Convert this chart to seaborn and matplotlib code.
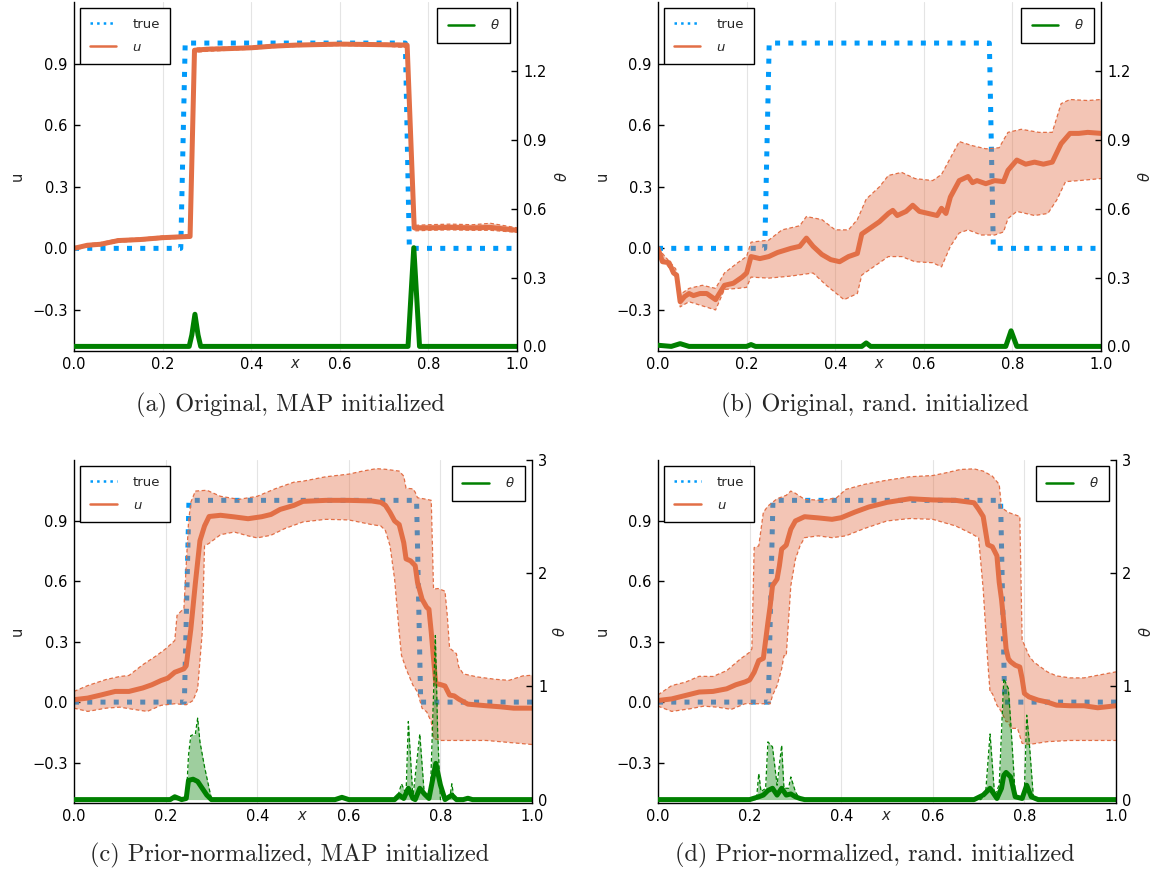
import numpy as np
import matplotlib
matplotlib.use('Agg')
import matplotlib.pyplot as plt
import seaborn as sns
from matplotlib.lines import Line2D

# true step
true_x = [0, 0.241, 0.251, 0.748, 0.757, 1.0]
true_u = [0, 0, 1, 1, 0, 0]

# (a) original, MAP initialized
a_x = [0, 0.03, 0.06, 0.1, 0.15, 0.2, 0.23, 0.262, 0.272, 0.3, 0.35, 0.4, 0.45, 0.5, 0.6, 0.7, 0.752, 0.768, 0.8, 0.85, 0.9, 0.94, 1.0]
a_u = [0.0, 0.015, 0.02, 0.038, 0.043, 0.052, 0.055, 0.058, 0.965, 0.97, 0.973, 0.977, 0.985, 0.99, 0.995, 0.992, 0.99, 0.10, 0.10, 0.102, 0.10, 0.102, 0.088]
a_lo = [0.0, 0.008, 0.013, 0.03, 0.036, 0.045, 0.048, 0.05, 0.955, 0.96, 0.965, 0.97, 0.978, 0.983, 0.988, 0.985, 0.978, 0.085, 0.088, 0.09, 0.088, 0.088, 0.078]
a_hi = [0.0, 0.022, 0.028, 0.046, 0.05, 0.06, 0.062, 0.066, 0.975, 0.978, 0.98, 0.984, 0.992, 0.996, 1.0, 0.998, 0.998, 0.112, 0.115, 0.118, 0.115, 0.122, 0.1]
a_tx = [0, 0.26, 0.266, 0.273, 0.28, 0.286, 0.754, 0.76, 0.767, 0.774, 0.78, 1.0]
a_t = [0, 0, 0.05, 0.14, 0.05, 0, 0, 0.2, 0.43, 0.2, 0, 0]

# (b) original, rand. initialized
b_x = [0, 0.01, 0.025, 0.035, 0.042, 0.05, 0.06, 0.07, 0.08, 0.095, 0.11, 0.13, 0.15, 0.17, 0.19, 0.2, 0.21, 0.23, 0.25, 0.27,
       0.30, 0.32, 0.335, 0.35, 0.37, 0.39, 0.41, 0.43, 0.45, 0.46, 0.48, 0.5, 0.52, 0.53, 0.54, 0.56, 0.575, 0.59, 0.61, 0.63,
       0.64, 0.65, 0.66, 0.68, 0.70, 0.71, 0.72, 0.74, 0.76, 0.78, 0.79, 0.81, 0.83, 0.85, 0.87, 0.89, 0.91, 0.93, 0.95, 0.97, 1.0]
b_u = [0.0, -0.065, -0.07, -0.12, -0.13, -0.26, -0.235, -0.22, -0.23, -0.22, -0.22, -0.25, -0.18, -0.17, -0.14, -0.12, -0.04, -0.05, -0.04, -0.02,
       0.0, 0.01, 0.05, 0.01, -0.03, -0.055, -0.065, -0.04, -0.025, 0.07, 0.10, 0.13, 0.17, 0.185, 0.16, 0.18, 0.21, 0.18, 0.17, 0.16,
       0.195, 0.17, 0.25, 0.33, 0.35, 0.32, 0.33, 0.315, 0.33, 0.325, 0.38, 0.43, 0.41, 0.42, 0.41, 0.42, 0.51, 0.56, 0.56, 0.565, 0.56]
b_lx = [0, 0.02, 0.04, 0.05, 0.07, 0.10, 0.13, 0.15, 0.18, 0.2, 0.21, 0.25, 0.3, 0.35, 0.38, 0.42, 0.45, 0.46, 0.5, 0.52,
        0.55, 0.58, 0.62, 0.64, 0.66, 0.68, 0.70, 0.73, 0.76, 0.78, 0.79, 0.81, 0.85, 0.88, 0.90, 0.92, 0.95, 1.0]
b_lo = [0.0, -0.08, -0.14, -0.285, -0.26, -0.28, -0.30, -0.2, -0.195, -0.19, -0.14, -0.145, -0.135, -0.12, -0.18, -0.25, -0.22, -0.13, -0.07, -0.04,
        -0.04, -0.065, -0.07, -0.09, 0.01, 0.075, 0.09, 0.065, 0.065, 0.08, 0.145, 0.18, 0.16, 0.17, 0.235, 0.325, 0.33, 0.34]
b_hx = [0, 0.02, 0.04, 0.05, 0.07, 0.10, 0.13, 0.15, 0.18, 0.2, 0.21, 0.25, 0.28, 0.32, 0.335, 0.37, 0.4, 0.43, 0.45, 0.47,
        0.5, 0.52, 0.55, 0.58, 0.62, 0.64, 0.66, 0.68, 0.71, 0.74, 0.77, 0.79, 0.82, 0.86, 0.89, 0.91, 0.93, 0.97, 1.0]
b_hi = [0.0, -0.05, -0.1, -0.225, -0.195, -0.18, -0.195, -0.12, -0.07, -0.04, 0.03, 0.04, 0.09, 0.11, 0.155, 0.14, 0.09, 0.09, 0.14, 0.24,
        0.30, 0.355, 0.37, 0.34, 0.33, 0.36, 0.44, 0.52, 0.50, 0.485, 0.49, 0.565, 0.58, 0.565, 0.565, 0.705, 0.725, 0.72, 0.725]
b_tx = [0, 0.03, 0.05, 0.07, 0.2, 0.21, 0.22, 0.46, 0.47, 0.48, 0.785, 0.797, 0.81, 1.0]
b_t = [0.005, 0.0, 0.012, 0.0, 0.0, 0.008, 0.0, 0.0, 0.015, 0.0, 0.0, 0.068, 0.0, 0.0]

# (c) prior-normalized, MAP initialized
c_x = [0, 0.03, 0.06, 0.09, 0.12, 0.15, 0.17, 0.19, 0.205, 0.22, 0.24, 0.245, 0.255, 0.265, 0.275, 0.285, 0.295, 0.32, 0.35, 0.38,
       0.41, 0.43, 0.45, 0.48, 0.5, 0.55, 0.6, 0.65, 0.67, 0.68, 0.69, 0.70, 0.71, 0.72, 0.725, 0.735, 0.745, 0.75, 0.76, 0.77,
       0.775, 0.78, 0.785, 0.79, 0.80, 0.81, 0.82, 0.83, 0.84, 0.86, 0.9, 0.93, 0.96, 1.0]
c_u = [0.012, 0.02, 0.036, 0.053, 0.053, 0.07, 0.086, 0.107, 0.119, 0.148, 0.165, 0.18, 0.36, 0.59, 0.80, 0.873, 0.92, 0.926, 0.918, 0.909,
       0.919, 0.93, 0.955, 0.975, 0.995, 1.0, 1.0, 0.997, 0.99, 0.975, 0.94, 0.898, 0.88, 0.79, 0.71, 0.70, 0.676, 0.594, 0.51, 0.47,
       0.46, 0.347, 0.215, 0.092, 0.087, 0.08, 0.035, 0.031, 0.015, -0.01, -0.018, -0.023, -0.03, -0.03]
c_hx = [0, 0.03, 0.07, 0.1, 0.12, 0.15, 0.18, 0.2, 0.22, 0.225, 0.24, 0.25, 0.255, 0.265, 0.29, 0.32, 0.36, 0.40, 0.44, 0.48,
        0.5, 0.55, 0.6, 0.63, 0.66, 0.68, 0.71, 0.72, 0.725, 0.74, 0.745, 0.75, 0.77, 0.78, 0.785, 0.795, 0.81, 0.815, 0.82, 0.835,
        0.84, 0.85, 0.88, 0.92, 0.95, 0.98, 1.0]
c_hi = [0.053, 0.082, 0.112, 0.127, 0.132, 0.185, 0.23, 0.264, 0.305, 0.43, 0.465, 0.89, 0.99, 1.046, 1.05, 1.02, 1.005, 1.02, 1.058, 1.09,
        1.095, 1.117, 1.13, 1.145, 1.157, 1.154, 1.145, 1.12, 1.06, 1.057, 1.04, 1.013, 1.005, 1.0, 0.56, 0.563, 0.55, 0.43, 0.268, 0.24,
        0.174, 0.14, 0.125, 0.113, 0.108, 0.13, 0.133]
c_lx = [0, 0.03, 0.07, 0.1, 0.13, 0.16, 0.19, 0.22, 0.245, 0.26, 0.27, 0.28, 0.285, 0.295, 0.32, 0.35, 0.38, 0.40, 0.43, 0.46,
        0.5, 0.55, 0.6, 0.65, 0.67, 0.68, 0.69, 0.70, 0.71, 0.715, 0.725, 0.74, 0.75, 0.76, 0.77, 0.78, 0.785, 0.8, 0.85, 0.9,
        0.95, 1.0]
c_lo = [-0.03, -0.046, -0.03, -0.025, -0.036, -0.046, -0.016, -0.008, -0.013, 0.008, 0.066, 0.346, 0.774, 0.787, 0.83, 0.843, 0.824, 0.814, 0.827, 0.86,
        0.893, 0.906, 0.903, 0.88, 0.873, 0.85, 0.775, 0.61, 0.347, 0.232, 0.166, 0.084, 0.05, -0.03, -0.048, -0.097, -0.18, -0.19, -0.19, -0.19,
        -0.2, -0.21]
c_tx = [0, 0.21, 0.22, 0.235, 0.245, 0.25, 0.26, 0.27, 0.28, 0.29, 0.30, 0.57, 0.585, 0.60, 0.70, 0.71, 0.72, 0.73, 0.74, 0.745,
        0.755, 0.765, 0.775, 0.79, 0.80, 0.81, 0.825, 0.835, 0.85, 0.86, 0.87, 1.0]
c_t = [0, 0, 0.025, 0, 0.01, 0.17, 0.18, 0.16, 0.10, 0.04, 0, 0, 0.02, 0, 0, 0.04, 0.01, 0.1, 0.01, 0,
       0.1, 0.05, 0.01, 0.32, 0.13, 0, 0.04, 0, 0, 0.012, 0, 0]
c_thx = [0, 0.245, 0.25, 0.255, 0.265, 0.27, 0.275, 0.285, 0.295, 0.30, 0.705, 0.715, 0.725, 0.73, 0.74, 0.755, 0.765, 0.778, 0.789, 0.794,
         0.80, 0.82, 0.825, 0.83, 1.0]
c_th = [0, 0, 0.39, 0.565, 0.58, 0.72, 0.51, 0.29, 0.1, 0.01, 0, 0.14, 0.05, 0.69, 0.02, 0.58, 0.04, 0.03, 1.45, 0.6,
        0, 0, 0.14, 0, 0]

# (d) prior-normalized, rand. initialized
d_x = [0, 0.03, 0.06, 0.09, 0.12, 0.15, 0.17, 0.19, 0.20, 0.21, 0.22, 0.23, 0.24, 0.245, 0.25, 0.26, 0.265, 0.27, 0.28, 0.29,
       0.30, 0.32, 0.35, 0.38, 0.40, 0.43, 0.46, 0.5, 0.55, 0.6, 0.65, 0.69, 0.70, 0.71, 0.72, 0.73, 0.74, 0.745, 0.75, 0.755,
       0.76, 0.765, 0.77, 0.78, 0.79, 0.795, 0.80, 0.81, 0.83, 0.85, 0.87, 0.9, 0.93, 0.96, 1.0]
d_u = [0.008, 0.016, 0.033, 0.05, 0.053, 0.066, 0.086, 0.10, 0.11, 0.148, 0.206, 0.217, 0.395, 0.478, 0.577, 0.61, 0.675, 0.758, 0.778, 0.857,
       0.898, 0.919, 0.913, 0.906, 0.914, 0.942, 0.967, 0.99, 1.008, 1.002, 1.0, 0.988, 0.956, 0.92, 0.78, 0.77, 0.725, 0.594, 0.51, 0.396,
       0.265, 0.215, 0.2, 0.183, 0.174, 0.117, 0.043, 0.026, 0.01, 0.0, -0.015, -0.018, -0.018, -0.028, -0.018]
d_hx = [0, 0.03, 0.06, 0.09, 0.12, 0.15, 0.18, 0.2, 0.205, 0.21, 0.22, 0.225, 0.23, 0.24, 0.26, 0.28, 0.29, 0.30, 0.32, 0.36,
        0.39, 0.41, 0.45, 0.5, 0.55, 0.6, 0.63, 0.66, 0.69, 0.71, 0.73, 0.745, 0.75, 0.765, 0.79, 0.795, 0.81, 0.82, 0.83, 0.85,
        0.87, 0.9, 0.93, 0.96, 1.0]
d_hi = [0.036, 0.082, 0.099, 0.128, 0.127, 0.156, 0.214, 0.247, 0.264, 0.766, 0.774, 0.857, 0.94, 0.972, 1.008, 1.025, 1.046, 1.035, 1.005, 1.0,
        1.013, 1.054, 1.079, 1.10, 1.117, 1.123, 1.137, 1.153, 1.156, 1.145, 1.12, 1.079, 0.964, 0.94, 0.92, 0.31, 0.23, 0.2, 0.183, 0.15,
        0.13, 0.12, 0.12, 0.133, 0.15]
d_lx = [0, 0.03, 0.07, 0.1, 0.13, 0.16, 0.19, 0.22, 0.245, 0.25, 0.26, 0.27, 0.275, 0.28, 0.29, 0.30, 0.31, 0.32, 0.35, 0.38,
        0.41, 0.45, 0.5, 0.55, 0.6, 0.65, 0.68, 0.70, 0.71, 0.72, 0.725, 0.73, 0.74, 0.75, 0.76, 0.765, 0.77, 0.785, 0.795, 0.81,
        0.85, 0.9, 0.95, 1.0]
d_lo = [-0.02, -0.046, -0.033, -0.02, -0.025, -0.036, -0.008, -0.008, -0.008, 0.033, 0.082, 0.165, 0.23, 0.23, 0.577, 0.708, 0.774, 0.815, 0.824, 0.815,
        0.824, 0.86, 0.898, 0.91, 0.906, 0.873, 0.84, 0.815, 0.56, 0.2, 0.05, 0.043, -0.015, -0.048, -0.097, -0.097, -0.13, -0.13, -0.204, -0.21,
        -0.196, -0.19, -0.19, -0.19]
d_tx = [0, 0.2, 0.22, 0.23, 0.24, 0.25, 0.26, 0.27, 0.28, 0.29, 0.30, 0.31, 0.32, 0.69, 0.71, 0.725, 0.74, 0.75, 0.755, 0.76,
        0.77, 0.78, 0.795, 0.805, 0.815, 0.83, 1.0]
d_t = [0, 0, 0.025, 0.04, 0.08, 0.1, 0.04, 0.1, 0.04, 0.05, 0.025, 0.01, 0, 0, 0.04, 0.1, 0.01, 0.1, 0.215, 0.24,
       0.2, 0.025, 0.01, 0.127, 0.025, 0, 0]
d_thx = [0, 0.215, 0.22, 0.225, 0.235, 0.24, 0.25, 0.26, 0.27, 0.275, 0.285, 0.29, 0.30, 0.31, 0.705, 0.715, 0.725, 0.735, 0.745, 0.755,
         0.765, 0.77, 0.78, 0.79, 0.80, 0.805, 0.81, 0.82, 1.0]
d_th = [0, 0, 0.23, 0.07, 0.1, 0.51, 0.466, 0.127, 0.48, 0.1, 0.1, 0.2, 0.07, 0, 0, 0.04, 0.58, 0.04, 0.127, 1.07,
        0.98, 0.69, 0.04, 0, 0.07, 0.746, 0.54, 0, 0]

x_ticks = [0, 0.2, 0.4, 0.6, 0.8, 1.0]
x_labels = ['0.0', '0.2', '0.4', '0.6', '0.8', '1.0']
u_ticks = [-0.3, 0, 0.3, 0.6, 0.9]
u_labels = ['\u22120.3', '0.0', '0.3', '0.6', '0.9']
t_ticks_orig = [0, 0.3, 0.6, 0.9, 1.2]
t_labels_orig = ['0.0', '0.3', '0.6', '0.9', '1.2']
t_ticks_norm = [0, 1, 2, 3]
t_labels_norm = ['0', '1', '2', '3']

captions = ['(a) Original, MAP initialized', '(b) Original, rand. initialized',
            '(c) Prior-normalized, MAP initialized', '(d) Prior-normalized, rand. initialized']

sns.set_style('white')
plt.rcParams['font.family'] = ['DejaVu Sans']
plt.rcParams['mathtext.fontset'] = 'dejavusans'

BLUE = '#009AFA'
ORANGE = '#E26F46'
GREEN = '#008000'
W, H = 1154, 873

fig = plt.figure(figsize=(W / 100, H / 100), dpi=100)


def line(ax, x, y, **kw):
    sns.lineplot(x=x, y=y, ax=ax, sort=False, estimator=None, **kw)


def panel(px, mean, lo, hi, th, th_hi, tticks, tlabels, tlim, cap, capx, capy, ulx, tlx):
    left, top, right, bottom = px
    ax = fig.add_axes([left / W, 1 - bottom / H, (right - left) / W, (bottom - top) / H])
    ax.grid(axis='x', color='#e4e4e4', lw=0.8)
    ax.set_axisbelow(True)

    # true line first, then the band on top of it (same zorder keeps insertion order)
    line(ax, true_x, true_u, color=BLUE, lw=3.6, ls=':')
    ax.lines[-1].set_dash_capstyle('butt')
    ax.fill(np.r_[hi[0], lo[0][::-1]], np.r_[hi[1], lo[1][::-1]], color=ORANGE, alpha=0.4, lw=0, zorder=2)
    line(ax, lo[0], lo[1], color=ORANGE, lw=0.9, ls=(0, (3, 2)))
    line(ax, hi[0], hi[1], color=ORANGE, lw=0.9, ls=(0, (3, 2)))
    line(ax, mean[0], mean[1], color=ORANGE, lw=3.6)

    ax.set_xlim(0, 1)
    ax.set_ylim(-0.5, 1.2)
    ax.set_xticks(x_ticks, x_labels)
    ax.set_yticks(u_ticks, u_labels)
    ax.tick_params(direction='in', length=4, width=1, pad=4.5, labelsize=10.5, colors='black')
    for s in ['left', 'bottom']:
        ax.spines[s].set_color('black')
        ax.spines[s].set_linewidth(1)
    ax.spines['top'].set_visible(False)
    ax.spines['right'].set_visible(False)

    leg1 = ax.legend(handles=[Line2D([], [], color=BLUE, lw=1.8, ls=':'),
                              Line2D([], [], color=ORANGE, lw=1.8)],
                     labels=['true', '$u$'], loc='upper left', bbox_to_anchor=(0.014, 0.983),
                     borderaxespad=0, fontsize=9.5, fancybox=False, framealpha=1,
                     edgecolor='black', handlelength=2.0, handletextpad=1.2, borderpad=0.75,
                     labelspacing=0.75)
    leg1.get_frame().set_linewidth(1)
    leg1.set_zorder(5)

    ax2 = ax.twinx()
    if th_hi is not None:
        ax2.fill_between(th_hi[0], 0, th_hi[1], color=GREEN, alpha=0.38, lw=0)
        line(ax2, th_hi[0], th_hi[1], color=GREEN, lw=0.9, ls=(0, (3, 2)))
    line(ax2, th[0], th[1], color=GREEN, lw=3.6)
    ax2.set_ylim(*tlim)
    ax2.set_yticks(tticks, tlabels)
    ax2.tick_params(direction='in', length=4, width=1, pad=4.5, labelsize=10.5, colors='black')
    ax2.spines['right'].set_color('black')
    ax2.spines['right'].set_linewidth(1)
    for s in ['top', 'left', 'bottom']:
        ax2.spines[s].set_visible(False)
    leg2 = ax2.legend(handles=[Line2D([], [], color=GREEN, lw=1.8)], labels=['$\\theta$'],
                      loc='upper right', bbox_to_anchor=(0.985, 0.983), borderaxespad=0,
                      fontsize=9.5, fancybox=False, framealpha=1, edgecolor='black',
                      handlelength=2.0, handletextpad=1.2, borderpad=0.8)
    leg2.get_frame().set_linewidth(1)

    cy = (top + bottom) / 2
    fig.text(ulx / W, 1 - cy / H, 'u', rotation=90, ha='center', va='center', fontsize=10.5)
    fig.text(tlx / W, 1 - cy / H, '$\\theta$', rotation=90, ha='center', va='center', fontsize=10.5)
    fig.text((left + right) / 2 / W, 1 - (bottom + 12) / H, '$x$', ha='center', va='center', fontsize=10.5)
    fig.text(capx / W, 1 - capy / H, cap, ha='center', va='center', fontsize=17.5, family='cmr10')


lim_orig = (-0.02, 1.5)
lim_norm = (-0.03, 3.0)

panel((74, 2, 517, 351), (a_x, a_u), (a_x, a_lo), (a_x, a_hi), (a_tx, a_t), None,
      t_ticks_orig, t_labels_orig, lim_orig, captions[0], 290, 405, 17, 562)
panel((658, 2, 1101, 351), (b_x, b_u), (b_lx, b_lo), (b_hx, b_hi), (b_tx, b_t), None,
      t_ticks_orig, t_labels_orig, lim_orig, captions[1], 875, 405, 602, 1145)
panel((74, 460, 532, 803), (c_x, c_u), (c_lx, c_lo), (c_hx, c_hi), (c_tx, c_t), (c_thx, c_th),
      t_ticks_norm, t_labels_norm, lim_norm, captions[2], 290, 855, 17, 560)
panel((658, 460, 1116, 803), (d_x, d_u), (d_lx, d_lo), (d_hx, d_hi), (d_tx, d_t), (d_thx, d_th),
      t_ticks_norm, t_labels_norm, lim_norm, captions[3], 875, 855, 602, 1146)

fig.savefig('out.png', dpi=100)
